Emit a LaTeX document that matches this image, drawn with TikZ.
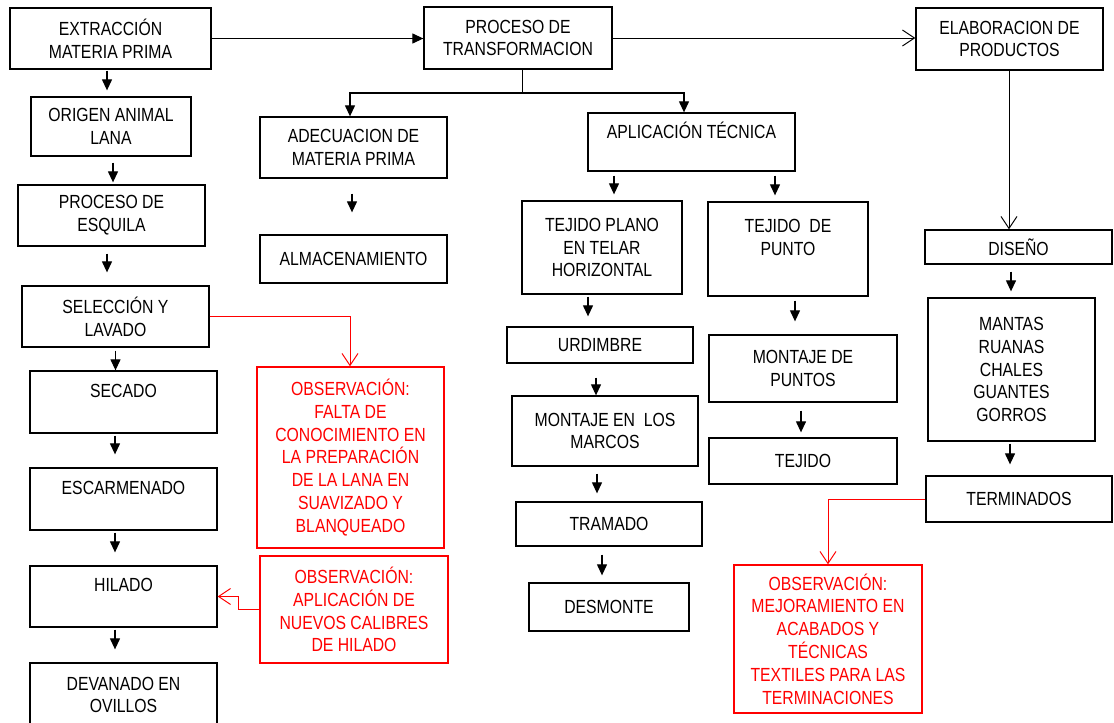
\documentclass[tikz,border=0pt]{standalone}
\usepackage{fontspec}
\setmainfont{Liberation Sans}[FakeStretch=0.83]
\usetikzlibrary{arrows.meta}
\newcommand{\boxfont}{\fontsize{19}{22.8}\selectfont}

\begin{document}
\begin{tikzpicture}[x=1pt, y=-1pt,
  box/.style={draw, line width=1.3pt, align=center, inner sep=0pt, font=\boxfont},
  obs/.style={box, draw=red, text=red},
  arr/.style={-{Triangle[width=10pt,length=11pt]}, line width=1.2pt},
  opn/.style={-{Straight Barb[width=16pt,length=12pt]}, line width=1pt},
  redarr/.style={opn, red}]
\fill[white] (0,0) rectangle (1114,723);
\useasboundingbox (0,0) rectangle (1114,723);

% Left column: raw material
\node[box, minimum width=201, minimum height=61] (extr) at (110.5,38.5) {EXTRACCIÓN\\MATERIA PRIMA};
\node[box, minimum width=160, minimum height=59] (origen) at (111,126.5) {ORIGEN ANIMAL\\LANA};
\node[box, minimum width=187, minimum height=61] (esquila) at (111.5,215.5) {PROCESO DE\\ESQUILA};
\node[box, minimum width=187, minimum height=61] (selec) at (115.5,316.5) {SELECCIÓN Y\\LAVADO};
\node[box, minimum width=187, minimum height=62] (secado) at (123.5,402) {SECADO\\~};
\node[box, minimum width=187, minimum height=62] (escarm) at (123.5,499) {ESCARMENADO\\~};
\node[box, minimum width=187, minimum height=61] (hilado) at (123.5,596.5) {HILADO\\~};
\node[box, minimum width=187, minimum height=64] (devan) at (123.5,695) {DEVANADO EN\\OVILLOS};

% Observations
\node[obs, minimum width=187, minimum height=181] (obs1) at (350.5,457.5) {OBSERVACIÓN:\\FALTA DE\\CONOCIMIENTO EN\\LA PREPARACIÓN\\DE LA LANA EN\\SUAVIZADO Y\\BLANQUEADO};
\node[obs, minimum width=188, minimum height=107] (obs2) at (354,609.5) {OBSERVACIÓN:\\APLICACIÓN DE\\NUEVOS CALIBRES\\DE HILADO};
\node[obs, minimum width=188, minimum height=148] (obs3) at (828,639) {OBSERVACIÓN:\\MEJORAMIENTO EN\\ACABADOS Y\\TÉCNICAS\\TEXTILES PARA LAS\\TERMINACIONES};

% Transformation
\node[box, minimum width=188, minimum height=62] (proceso) at (518,38) {PROCESO DE\\TRANSFORMACION};
\node[box, minimum width=187, minimum height=61] (adec) at (353.5,147.5) {ADECUACION DE\\MATERIA PRIMA};
\node[box, minimum width=187, minimum height=48] (almac) at (353.5,259) {ALMACENAMIENTO};
\node[box, minimum width=207, minimum height=58] (aplic) at (691.5,142) {APLICACIÓN TÉCNICA\\~};
\node[box, minimum width=160, minimum height=93] (tejplano) at (602,247.5) {TEJIDO PLANO\\EN TELAR\\HORIZONTAL};
\node[box, minimum width=160, minimum height=94] (tejpunto) at (788,249) {TEJIDO~~DE\\PUNTO\\~};
\node[box, minimum width=186, minimum height=36] (urdimbre) at (600,345) {URDIMBRE};
\node[box, minimum width=186, minimum height=70] (marcos) at (605,431) {MONTAJE EN~~LOS\\MARCOS};
\node[box, minimum width=186, minimum height=44] (tramado) at (609,524) {TRAMADO};
\node[box, minimum width=160, minimum height=48] (desmonte) at (609,607) {DESMONTE};
\node[box, minimum width=188, minimum height=67] (montpuntos) at (803,368.5) {MONTAJE DE\\PUNTOS};
\node[box, minimum width=188, minimum height=46] (tejido) at (803,461) {TEJIDO};

% Products
\node[box, minimum width=187, minimum height=62] (elab) at (1009.5,39) {ELABORACION DE\\PRODUCTOS};
\node[box, minimum width=187, minimum height=34] (diseno) at (1018.5,247) {DISEÑO};
\node[box, minimum width=167, minimum height=143] (mantas) at (1011.5,369.5) {MANTAS\\RUANAS\\CHALES\\GUANTES\\GORROS};
\node[box, minimum width=186, minimum height=46] (termin) at (1019,499) {TERMINADOS};

% Main flow
\draw[arr] (extr.east) -- (extr.east -| proceso.west);
\draw[opn] (proceso.east) -- (proceso.east -| elab.west);
\coordinate (bus) at (522,93);
\draw[line width=1pt] ([xshift=4]proceso.south) -- (bus);
\draw[arr] (bus) -| ([xshift=-3.5]adec.north);
\draw[arr] (bus) -| ([xshift=-7.5]aplic.north);
\draw[opn] ([xshift=-0.5]elab.south) -- ([xshift=-0.5]elab.south |- diseno.north);

% Short arrows
\draw[arr, shorten <=1, shorten >=6] ([xshift=-3.5]extr.south) -- ([xshift=-3.5]extr.south |- origen.north);
\draw[arr, shorten <=6, shorten >=2] ([xshift=2]origen.south) -- ([xshift=2]origen.south |- esquila.north);
\draw[arr, shorten <=7, shorten >=13] ([xshift=-4.5]esquila.south) -- ([xshift=-4.5]esquila.south |- selec.north);
\draw[arr, shorten <=3] (selec.south) -- (selec.south |- secado.north);
\draw[arr, shorten <=2, shorten >=13] ([xshift=-8.5]secado.south) -- ([xshift=-8.5]secado.south |- escarm.north);
\draw[arr, shorten <=2, shorten >=13] ([xshift=-8.5]escarm.south) -- ([xshift=-8.5]escarm.south |- hilado.north);
\draw[arr, shorten <=2, shorten >=13] ([xshift=-8.5]hilado.south) -- ([xshift=-8.5]hilado.south |- devan.north);
\draw[arr, shorten <=15, shorten >=22] ([xshift=-1.5]adec.south) -- ([xshift=-1.5]adec.south |- almac.north);
\draw[arr, shorten <=4, shorten >=6] ([xshift=12]tejplano.north |- aplic.south) -- ([xshift=12]tejplano.north);
\draw[arr, shorten <=4, shorten >=6] ([xshift=-13]tejpunto.north |- aplic.south) -- ([xshift=-13]tejpunto.north);
\draw[arr, shorten <=2, shorten >=10] ([xshift=-14]tejplano.south) -- ([xshift=-14]tejplano.south |- urdimbre.north);
\draw[arr, shorten <=14] ([xshift=-4]urdimbre.south) -- ([xshift=-4]urdimbre.south |- marcos.north);
\draw[arr, shorten <=7, shorten >=8] ([xshift=-8]marcos.south) -- ([xshift=-8]marcos.south |- tramado.north);
\draw[arr, shorten <=8, shorten >=7] ([xshift=-7]tramado.south) -- ([xshift=-7]tramado.south |- desmonte.north);
\draw[arr, shorten <=4, shorten >=13] ([xshift=7]tejpunto.south) -- ([xshift=7]tejpunto.south |- montpuntos.north);
\draw[arr, shorten <=8, shorten >=5] ([xshift=-2]montpuntos.south) -- ([xshift=-2]montpuntos.south |- tejido.north);
\draw[arr, shorten <=7, shorten >=6] ([xshift=-7.5]diseno.south) -- ([xshift=-7.5]diseno.south |- mantas.north);
\draw[arr, shorten <=2, shorten >=11] ([xshift=-1.5]mantas.south) -- ([xshift=-1.5]mantas.south |- termin.north);

% Observation links
\draw[redarr] (selec.east) -| ([xshift=-0.5]obs1.north);
\draw[redarr] (obs2.west) -- ++(-21,0) |- (hilado.east);
\draw[redarr] (termin.west) -| (obs3.north);
\end{tikzpicture}
\end{document}
